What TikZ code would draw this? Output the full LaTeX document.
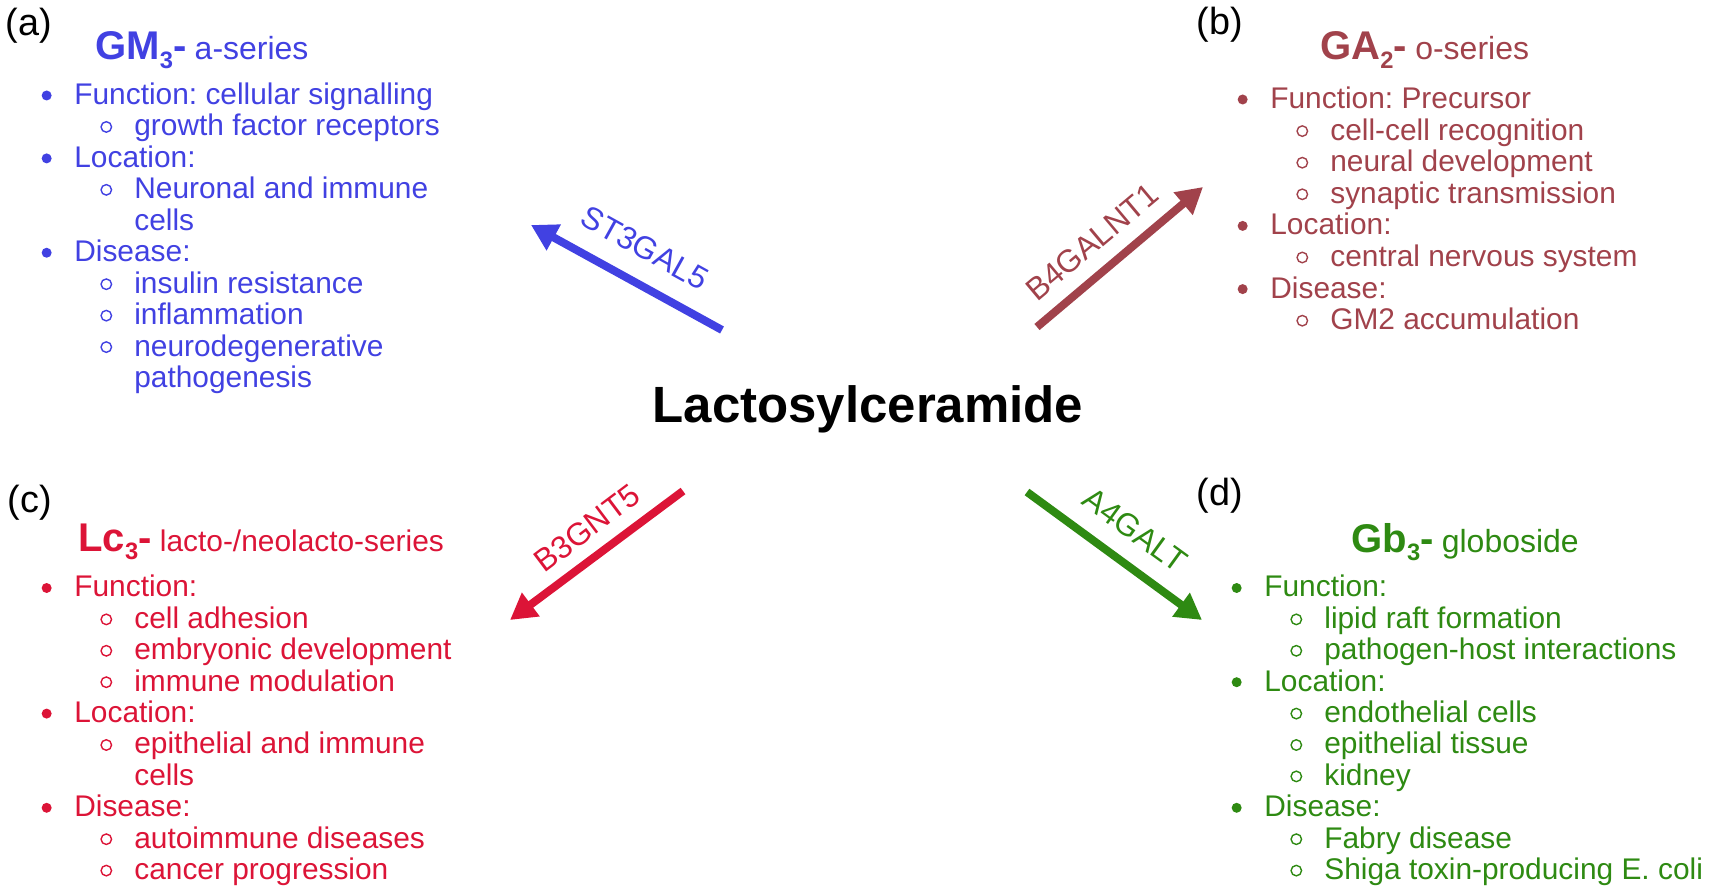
\documentclass[tikz,border=0pt]{standalone}
\usepackage{fontspec}
\setmainfont{Liberation Sans}
\usetikzlibrary{arrows.meta,calc}
\definecolor{gmblue}{HTML}{4141E2}
\definecolor{gabrown}{HTML}{A1424B}
\definecolor{lcred}{HTML}{DC1437}
\definecolor{gbgreen}{HTML}{2E8A12}
\newcommand\seriesname[2]{{\fontsize{22.8}{24}\selectfont\bfseries #1\raisebox{-0.22em}{\fontsize{13.5}{14}\selectfont #2}-}}
\frenchspacing
\tikzset{
  every picture/.style={font=\fontsize{17}{20}\selectfont\frenchspacing},
  panel tag/.style={inner sep=0pt,font=\fontsize{21.5}{24}\selectfont,text=black},
  series title/.style={anchor=base west,inner sep=0pt},
  bullet dot/.style={circle,fill,inner sep=0pt,minimum size=2mm},
  bullet ring/.style={circle,draw,line width=0.28mm,inner sep=0pt,minimum size=2.1mm},
  item0/.style={anchor=west,inner sep=0pt,text height=12.3pt,text depth=2.1pt,xshift=17.4mm},
  item1/.style={anchor=west,inner sep=0pt,text height=12.3pt,text depth=2.1pt,xshift=5.4mm,
    label={[bullet dot,label distance=4.4mm]left:}},
  item2/.style={item0,label={[bullet ring,label distance=4.35mm]left:}},
  enzyme arrow/.style={line width=1.6mm,-{Triangle[length=5.2mm,width=5.6mm]}},
  enzyme/.style={inner sep=0pt,font=\fontsize{18}{20}\selectfont},
  substrate/.style={anchor=base,inner sep=0pt,font=\fontsize{29}{32}\selectfont\bfseries},
}
\begin{document}
\begin{tikzpicture}[x=0.2mm,y=-0.2mm]
  \useasboundingbox (0,0) rectangle (1711,892);
  \node[substrate] (lac) at (868,423) {Lactosylceramide};
  \node[panel tag] (tag-a) at (29,26) {(a)};
  \node[panel tag] (tag-b) at (1220,25) {(b)};
  \node[panel tag] (tag-c) at (30,503) {(c)};
  \node[panel tag] (tag-d) at (1220,496) {(d)};
  % enzymes between the centre and the four series
  \coordinate (st-tail) at (722,330);  \coordinate (st-tip) at (531,225);
  \coordinate (b4-tail) at (1037,327); \coordinate (b4-tip) at (1203,187);
  \coordinate (b3-tail) at (683,491);  \coordinate (b3-tip) at (510,620);
  \coordinate (a4-tail) at (1027,492); \coordinate (a4-tip) at (1202,620);
  \draw[enzyme arrow,gmblue] (st-tail) -- (st-tip);
  \draw[enzyme arrow,gabrown] (b4-tail) -- (b4-tip);
  \draw[enzyme arrow,lcred] (b3-tail) -- (b3-tip);
  \draw[enzyme arrow,gbgreen] (a4-tail) -- (a4-tip);
  \node[enzyme,text=gmblue,rotate=-29] (st) at (645,248) {ST3GAL5};
  \node[enzyme,text=gabrown,rotate=40] (b4) at (1092,242) {B4GALNT1};
  \node[enzyme,text=lcred,rotate=37] (b3) at (587,528) {B3GNT5};
  \node[enzyme,text=gbgreen,rotate=-36] (a4) at (1135,530) {A4GALT};
  % (a) a-series
  \begin{scope}[color=gmblue]
    \node[series title] (a-title) at (95,60) {\seriesname{GM}{3} {\fontsize{18.2}{20}\selectfont a-series}};
    \coordinate (a-list) at (47,95.5);
    \foreach \lv/\txt [count=\i from 0] in {1/Function: cellular signalling,2/growth factor receptors,
      1/Location:,2/Neuronal and immune,0/cells,1/Disease:,2/insulin resistance,2/inflammation,
      2/neurodegenerative,0/pathogenesis}
      \node[item\lv] (a-\i) at ($(a-list)+(0,31.45*\i)$) {\txt};
  \end{scope}
  % (b) o-series
  \begin{scope}[color=gabrown]
    \node[series title] (b-title) at (1320,60) {\seriesname{GA}{2} {\fontsize{18.2}{20}\selectfont o-series}};
    \coordinate (b-list) at (1243,99.5);
    \foreach \lv/\txt [count=\i from 0] in {1/Function: Precursor,2/cell-cell recognition,
      2/neural development,2/synaptic transmission,1/Location:,2/central nervous system,
      1/Disease:,2/GM2 accumulation}
      \node[item\lv] (b-\i) at ($(b-list)+(0,31.6*\i)$) {\txt};
  \end{scope}
  % (c) lacto-/neolacto-series
  \begin{scope}[color=lcred]
    \node[series title] (c-title) at (78,551) {\seriesname{Lc}{3} {\fontsize{17}{20}\selectfont lacto-/neolacto-series}};
    \coordinate (c-list) at (47,588);
    \foreach \lv/\txt [count=\i from 0] in {1/Function:,2/cell adhesion,2/embryonic development,
      2/immune modulation,1/Location:,2/epithelial and immune,0/cells,1/Disease:,
      2/autoimmune diseases,2/cancer progression}
      \node[item\lv] (c-\i) at ($(c-list)+(0,31.4*\i)$) {\txt};
  \end{scope}
  % (d) globoside
  \begin{scope}[color=gbgreen]
    \node[series title] (d-title) at (1351,552) {\seriesname{Gb}{3} {\fontsize{18.2}{20}\selectfont globoside}};
    \coordinate (d-list) at (1237,588);
    \foreach \lv/\txt [count=\i from 0] in {1/Function:,2/lipid raft formation,
      2/pathogen-host interactions,1/Location:,2/endothelial cells,2/epithelial tissue,2/kidney,
      1/Disease:,2/Fabry disease,2/Shiga toxin-producing E. coli}
      \node[item\lv] (d-\i) at ($(d-list)+(0,31.4*\i)$) {\txt};
  \end{scope}
\end{tikzpicture}
\end{document}
